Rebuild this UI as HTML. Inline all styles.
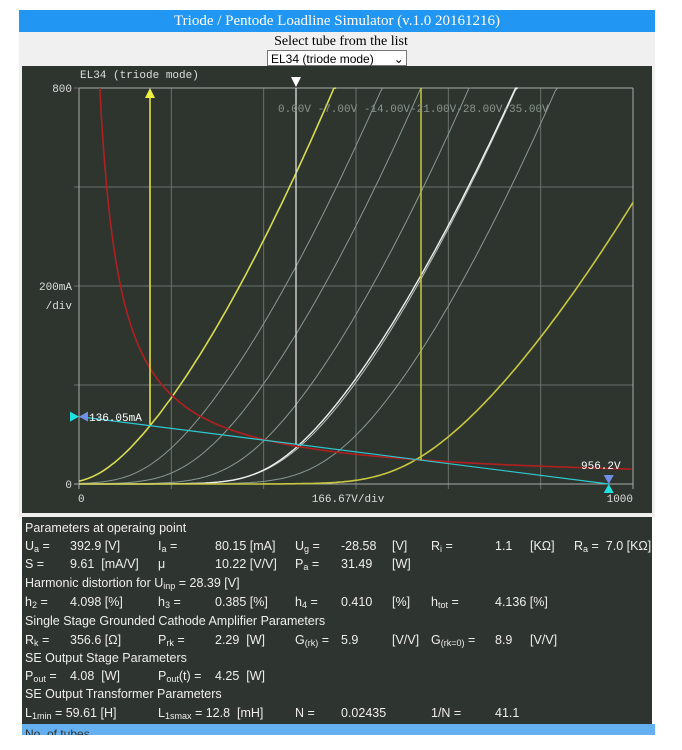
<!DOCTYPE html>
<html><head><meta charset="utf-8"><style>
body{margin:0;background:#fff;width:682px;height:750px;overflow:hidden;font-family:"Liberation Sans",sans-serif}
#title{position:absolute;left:19px;top:10px;width:636px;height:22px;background:#2196f3;color:#fff;font-family:"Liberation Serif",serif;font-size:15px;text-align:center;line-height:22px}
#gray{position:absolute;left:19px;top:32px;width:636px;height:485px;background:#f0f0f0}
#sel{position:absolute;left:0;top:34px;width:682px;text-align:center;font-family:"Liberation Serif",serif;font-size:14px;color:#000}
#box{position:absolute;left:267px;top:50px;width:140px;height:16px;border:1px solid #777;background:#fff;font-size:12px;line-height:16px;text-align:left;padding-left:3px;box-sizing:border-box}
svg{position:absolute;left:22px;top:66px}
#tab{position:absolute;left:22px;top:517px;width:630px;height:207px;background:#2e342f;color:#eee;font-size:12.5px}
#tab div{position:absolute;white-space:nowrap}
#bar{position:absolute;left:22px;top:724px;width:630px;height:11px;background:#64b0f0;overflow:hidden;font-size:12px;color:#333;padding-left:3px;line-height:20px}
sub{font-size:9px;vertical-align:-2px;line-height:0}
</style></head><body>
<div id="title">Triode / Pentode Loadline Simulator (v.1.0 20161216)</div>
<div id="gray"></div>
<div id="sel">Select tube from the list</div>
<div id="box">EL34 (triode mode) &nbsp;&nbsp;&nbsp;&nbsp;&nbsp;⌄</div>
<svg id="s" width="630" height="447" viewBox="22 66 630 447">
<rect x="22" y="66" width="630" height="447" fill="#2e352f"/>
<g id="grid" stroke="#6a706b" stroke-width="1"></g>
<g id="curves" fill="none"></g>
<g font-family="Liberation Mono,monospace" font-size="11" fill="#ddd">
<text x="80" y="78">EL34 (triode mode)</text>
<text x="72" y="92" text-anchor="end">800</text>
<text x="72" y="290" text-anchor="end">200mA</text>
<text x="72" y="309" text-anchor="end">/div</text>
<text x="72" y="488" text-anchor="end">0</text>
<text x="78" y="502">0</text>
<text x="348" y="502" text-anchor="middle">166.67V/div</text>
<text x="633" y="502" text-anchor="end">1000</text>
<text x="278" y="112" fill="#8c948e">0.00V -7.00V -14.00V-21.00V-28.00V-35.00V</text>
<text x="89" y="421" fill="#fff">136.05mA</text>
<text x="581" y="469" fill="#fff">956.2V</text>
</g>
</svg>
<div id="tab">
<div style="left:3px;top:4px">Parameters at operaing point</div>
<div style="left:3px;top:22px">U<sub>a</sub> =</div><div style="left:48px;top:22px">392.9 [V]</div><div style="left:136px;top:22px">I<sub>a</sub> =</div><div style="left:193px;top:22px">80.15 [mA]</div><div style="left:273px;top:22px">U<sub>g</sub> =</div><div style="left:319px;top:22px">-28.58</div><div style="left:370px;top:22px">[V]</div><div style="left:409px;top:22px">R<sub>i</sub> =</div><div style="left:473px;top:22px">1.1</div><div style="left:508px;top:22px">[KΩ]</div><div style="left:552px;top:22px">R<sub>a</sub> = &nbsp;7.0 [KΩ]</div>
<div style="left:3px;top:40px">S =</div><div style="left:48px;top:40px">9.61 &nbsp;[mA/V]</div><div style="left:136px;top:40px">μ</div><div style="left:193px;top:40px">10.22 [V/V]</div><div style="left:273px;top:40px">P<sub>a</sub> =</div><div style="left:319px;top:40px">31.49</div><div style="left:370px;top:40px">[W]</div>
<div style="left:3px;top:59px">Harmonic distortion for U<sub>inp</sub> = 28.39 [V]</div>
<div style="left:3px;top:78px">h<sub>2</sub> =</div><div style="left:48px;top:78px">4.098 [%]</div><div style="left:136px;top:78px">h<sub>3</sub> =</div><div style="left:193px;top:78px">0.385 [%]</div><div style="left:273px;top:78px">h<sub>4</sub> =</div><div style="left:319px;top:78px">0.410</div><div style="left:370px;top:78px">[%]</div><div style="left:409px;top:78px">h<sub>tot</sub> =</div><div style="left:473px;top:78px">4.136 [%]</div>
<div style="left:3px;top:97px">Single Stage Grounded Cathode Amplifier Parameters</div>
<div style="left:3px;top:116px">R<sub>k</sub> =</div><div style="left:48px;top:116px">356.6 [Ω]</div><div style="left:136px;top:116px">P<sub>rk</sub> =</div><div style="left:193px;top:116px">2.29 &nbsp;[W]</div><div style="left:273px;top:116px">G<sub>(rk)</sub> =</div><div style="left:319px;top:116px">5.9</div><div style="left:370px;top:116px">[V/V]</div><div style="left:409px;top:116px">G<sub>(rk=0)</sub> =</div><div style="left:473px;top:116px">8.9</div><div style="left:508px;top:116px">[V/V]</div>
<div style="left:3px;top:134px">SE Output Stage Parameters</div>
<div style="left:3px;top:152px">P<sub>out</sub> =</div><div style="left:48px;top:152px">4.08 &nbsp;[W]</div><div style="left:136px;top:152px">P<sub>out</sub>(t) =</div><div style="left:193px;top:152px">4.25 &nbsp;[W]</div>
<div style="left:3px;top:170px">SE Output Transformer Parameters</div>
<div style="left:3px;top:189px">L<sub>1min</sub> = 59.61 [H]</div><div style="left:136px;top:189px">L<sub>1smax</sub> = 12.8 &nbsp;[mH]</div><div style="left:273px;top:189px">N =</div><div style="left:319px;top:189px">0.02435</div><div style="left:409px;top:189px">1/N =</div><div style="left:473px;top:189px">41.1</div>
</div>
<div id="bar">No. of tubes</div>
<script>
var X0=79,X1=633,Y0=484,Y1=88;
function px(v){return X0+v/1000*(X1-X0)}
function py(i){return Y0-i/800*(Y0-Y1)}
var g=document.getElementById('grid'),c=document.getElementById('curves'),h='';
for(var k=1;k<=6;k++){var x=px(k*1000/6);h+='<line x1="'+x+'" y1="'+Y1+'" x2="'+x+'" y2="'+(Y0+5)+'"/>';}
for(var k=1;k<=4;k++){var y=py(k*200);h+='<line x1="'+(X0-5)+'" y1="'+y+'" x2="'+X1+'" y2="'+y+'"/>';}
h+='<line x1="'+X0+'" y1="'+Y1+'" x2="'+X0+'" y2="'+(Y0+5)+'" stroke="#aaa"/><line x1="'+(X0-5)+'" y1="'+Y0+'" x2="'+X1+'" y2="'+Y0+'" stroke="#aaa"/><line x1="'+X0+'" y1="'+Y1+'" x2="'+X1+'" y2="'+Y1+'" stroke="#aaa"/><line x1="'+X1+'" y1="'+Y1+'" x2="'+X1+'" y2="'+(Y0+5)+'" stroke="#aaa"/>';
g.innerHTML=h;
function curve(v0,kk,s,col,w){var d='';for(var v=0;v<=1000;v+=4){var e=s*Math.log(1+Math.exp((v-v0)/s));var i=kk*Math.pow(e,1.5);if(i>800){var x=px(v);d+='L'+x.toFixed(1)+' '+Y1;break;}d+=(d?'L':'M')+px(v).toFixed(1)+' '+py(i).toFixed(1);}return '<path d="'+d+'" stroke="'+col+'" stroke-width="'+w+'"/>';}
var o='';
o+=curve(75,0.078,40,'#8a9894',1);
o+=curve(145,0.078,45,'#8a9894',1);
o+=curve(232,0.078,50,'#8a9894',1);
o+=curve(305,0.075,50,'#b8c0bc',1);
o+=curve(390,0.078,55,'#8a9894',1);
o+=curve(0,0.081,25,'#d8dc50',1.6);
o+=curve(297,0.0735,45,'#f0f0f0',1.4);
o+=curve(527,0.0553,55,'#c8c840',1.6);
var rd='';for(var v=37.5;v<=1000;v+=3){rd+=(rd?'L':'M')+px(v).toFixed(1)+' '+py(30000/v).toFixed(1);}
o+='<path d="'+rd+'" stroke="#b02020" stroke-width="1.6"/>';
o+='<line x1="'+px(0)+'" y1="'+py(136.05)+'" x2="'+px(956.2)+'" y2="'+Y0+'" stroke="#30c8d0" stroke-width="1.2"/>';
o+='<line x1="150" y1="95" x2="150" y2="'+py(120)+'" stroke="#e8e840" stroke-width="1.5"/><polygon points="145,98 155,98 150,88" fill="#f0f040"/>';
o+='<line x1="421" y1="'+Y1+'" x2="421" y2="'+py(48)+'" stroke="#c8c840" stroke-width="1.5"/>';
o+='<line x1="296" y1="'+Y1+'" x2="296" y2="'+py(80.15)+'" stroke="#e0e0e0" stroke-width="1.3"/><polygon points="291,77 301,77 296,87" fill="#fff"/>';
var ly=py(136.05);
o+='<polygon points="70,'+(ly-5)+' 70,'+(ly+5)+' 79,'+ly+'" fill="#20e0e0"/><polygon points="88,'+(ly-5)+' 88,'+(ly+5)+' 79,'+ly+'" fill="#7090e8"/>';
var mx=px(956.2);
o+='<polygon points="'+(mx-5)+',475 '+(mx+5)+',475 '+mx+',484" fill="#7090e8"/><polygon points="'+(mx-5)+',493 '+(mx+5)+',493 '+mx+',484" fill="#20e0e0"/>';
c.innerHTML=o;
</script>
</body></html>
